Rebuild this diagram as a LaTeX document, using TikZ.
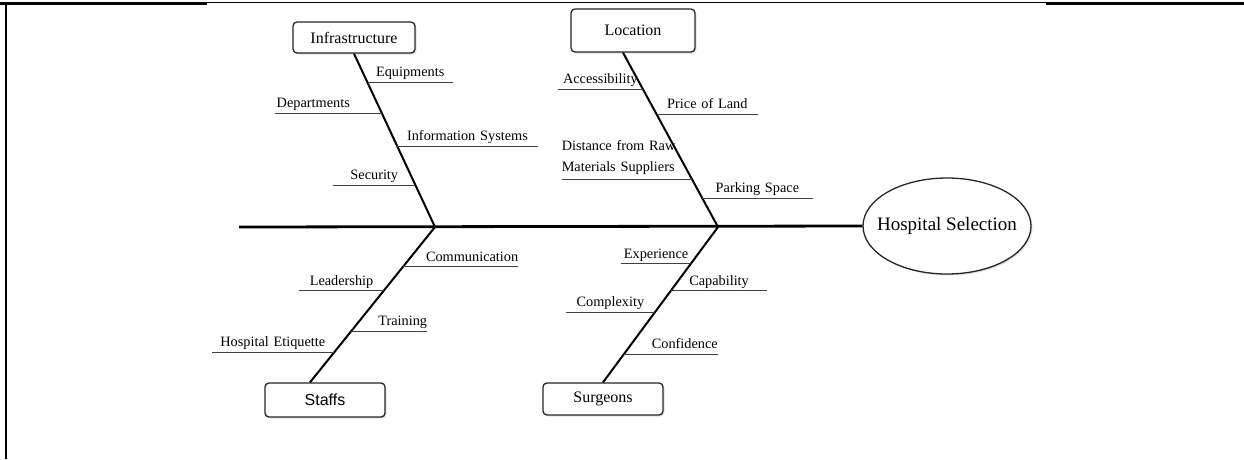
\documentclass[tikz,border=0pt]{standalone}
\usepackage{fontspec}
\setmainfont{Liberation Serif}
\setsansfont{Liberation Sans}
\usepackage{tikz}
\usetikzlibrary{shapes, shadows}

\begin{document}
\begin{tikzpicture}[
  x=1pt, y=-1pt,
  font=\fontsize{14.3}{15.5}\selectfont,
  box/.style={draw=black!85, rounded corners=4pt, line width=1.3pt, fill=white, minimum width=120pt, minimum height=32pt, inner sep=0pt, font=\fontsize{16}{18}\selectfont, drop shadow={opacity=0.25, shadow xshift=1.5pt, shadow yshift=-1.5pt}},
  effect/.style={draw=black!85, ellipse, line width=1.3pt, fill=white, minimum width=168pt, minimum height=96pt, inner xsep=-10.6pt, inner ysep=0pt, font=\fontsize{19}{22}\selectfont, drop shadow={opacity=0.25, shadow xshift=1.5pt, shadow yshift=-1.5pt}},
  spine/.style={line width=2.8pt},
  bone/.style={line width=2pt},
  sub/.style={line width=0.8pt, draw=black!75},
  cause/.style={inner xsep=0pt, inner ysep=1pt, text depth=4.5pt, align=center}
]
\useasboundingbox (0,0) rectangle (1244,459);

% Cadre
\draw[line width=1.2pt] (0,2.5) -- (1244,2.5);
\draw[line width=2.2pt] (0,3.7) -- (207,3.7);
\draw[line width=2.2pt] (1046,3.7) -- (1244,3.7);
\draw[line width=1.5pt] (5.8,2.5) -- (5.8,459);

% Noeuds
\node[effect] (hosp) at (947,226) {Hospital Selection};
\node[box, minimum width=122pt, minimum height=31pt] (infra) at (354,37.5) {Infrastructure};
\node[box, minimum width=124pt, minimum height=43pt] (loc) at (633,30.5) {Location};
\node[box, minimum height=34pt, font=\sffamily\fontsize{16}{18}\selectfont] (staffs) at (325,400) {Staffs};
\node[box] (surg) at (603,399) {Surgeons};

% Arete principale
\coordinate (tail) at (239,227);
\coordinate (j1) at (435,227);
\coordinate (j2) at (718,227);
\draw[spine] (tail) -- (hosp.west);

% Aretes
\draw[bone] (infra.south) --
  coordinate[pos=0.167] (equip)
  coordinate[pos=0.345] (dept)
  coordinate[pos=0.534] (infosys)
  coordinate[pos=0.759] (secu) (j1);
\draw[bone] ([xshift=-10pt]loc.south) --
  coordinate[pos=0.211] (access)
  coordinate[pos=0.354] (price)
  coordinate[pos=0.726] (dist)
  coordinate[pos=0.834] (park) (j2);
\draw[bone] ([xshift=-15pt]staffs.north) --
  coordinate[pos=0.192] (etiq)
  coordinate[pos=0.327] (train)
  coordinate[pos=0.590] (lead)
  coordinate[pos=0.744] (comm) (j1);
\draw[bone] (surg.north) --
  coordinate[pos=0.179] (conf)
  coordinate[pos=0.449] (compl)
  coordinate[pos=0.590] (capab)
  coordinate[pos=0.763] (exper) (j2);

% Causes : Infrastructure
\node[cause, text width=85pt, anchor=south west] (equipT) at (equip) {Equipments};
\draw[sub] (equip) -- (equipT.south east);
\node[cause, text width=107pt, align=left, anchor=south east] (deptT) at (dept) {\hspace{2pt}Departments};
\draw[sub] (dept) -- (deptT.south west);
\node[cause, text width=140pt, anchor=south west] (infosysT) at (infosys) {Information Systems};
\draw[sub] (infosys) -- (infosysT.south east);
\node[cause, text width=82pt, anchor=south east] (secuT) at (secu) {Security};
\draw[sub] (secu) -- (secuT.south west);

% Causes : Location
\node[cause, text width=85pt, anchor=south east] (accessT) at (access) {Accessibility};
\draw[sub] (access) -- (accessT.south west);
\node[cause, text width=101pt, anchor=south west] (priceT) at (price) {Price of Land};
\draw[sub] (price) -- (priceT.south east);
\node[cause, text width=130pt, align=left, text depth=28pt, font=\fontsize{14.3}{21}\selectfont, anchor=south east] (distT) at (dist) {Distance from Raw\\Materials Suppliers};
\draw[sub] (dist) -- (distT.south west);
\node[cause, text width=110pt, anchor=south west] (parkT) at (park) {Parking Space};
\draw[sub] (park) -- (parkT.south east);

% Causes : Staffs
\node[cause, text width=115pt, align=right, anchor=south west] (commT) at (comm) {Communication\hspace{3pt}};
\draw[sub] (comm) -- (commT.south east);
\node[cause, text width=84pt, anchor=south east] (leadT) at (lead) {Leadership};
\draw[sub] (lead) -- (leadT.south west);
\node[cause, text width=76pt, align=right, anchor=south west] (trainT) at (train) {Training\hspace{5pt}};
\draw[sub] (train) -- (trainT.south east);
\node[cause, text width=122pt, anchor=south east] (etiqT) at (etiq) {Hospital Etiquette};
\draw[sub] (etiq) -- (etiqT.south west);

% Causes : Surgeons
\node[cause, text width=69pt, anchor=south east] (experT) at (exper) {Experience};
\draw[sub] (exper) -- (experT.south west);
\node[cause, text width=96pt, anchor=south west] (capabT) at (capab) {Capability};
\draw[sub] (capab) -- (capabT.south east);
\node[cause, text width=88pt, anchor=south east] (complT) at (compl) {Complexity};
\draw[sub] (compl) -- (complT.south west);
\node[cause, text width=94pt, align=right, anchor=south west] (confT) at (conf) {Confidence\hspace{6pt}};
\draw[sub] (conf) -- (confT.south east);

\end{tikzpicture}
\end{document}
